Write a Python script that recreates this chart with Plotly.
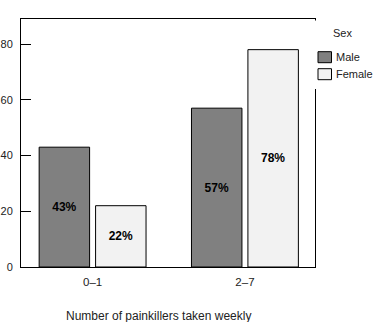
import plotly.graph_objects as go

# Painkiller use by sex (percent of each sex)
categories = ["0\u20131", "2\u20137"]
male_pct = [43, 57]
female_pct = [22, 78]
y_ticks = [0, 20, 40, 60, 80]
series_names = ["Male", "Female"]
series_colors = ["#808080", "#f2f2f2"]

FONT = "Liberation Sans, Arial, sans-serif"
W, H = 373, 322
ML, MR, MT, MB = 21, 58, 19, 55
PW, PH = W - ML - MR, H - MT - MB


def px_x(x):
    """Pixel column -> paper fraction."""
    return (x - ML) / PW


def px_y(y):
    """Pixel row (from top) -> paper fraction."""
    return (H - MB - y) / PH


fig = go.Figure()
for name, vals, color in zip(series_names, [male_pct, female_pct], series_colors):
    fig.add_trace(go.Bar(
        name=name, x=categories, y=vals,
        text=[f"{v}%" for v in vals],
        marker=dict(color=color, line=dict(color="black", width=1)),
    ))
fig.update_traces(
    textposition="inside", insidetextanchor="middle", textangle=0,
    constraintext="none",
    textfont=dict(family=FONT, size=12, color="black", weight="bold"),
)

# Key box at the top right, drawn over the frame corner
shapes = [dict(
    type="rect", xref="paper", yref="paper", layer="above",
    x0=px_x(311), x1=px_x(W + 5), y0=px_y(20.5), y1=px_y(89),
    fillcolor="white", line=dict(width=0),
)]
annotations = [dict(
    text="Sex", xref="paper", yref="paper",
    x=px_x(342), y=px_y(33), xanchor="center", yanchor="middle",
    showarrow=False, font=dict(size=11, color="#222"),
)]
for i, (name, color) in enumerate(zip(series_names, series_colors)):
    top = 51.7 + i * 17
    shapes.append(dict(
        type="rect", xref="paper", yref="paper", layer="above",
        x0=px_x(318), x1=px_x(331.5), y0=px_y(top), y1=px_y(top + 11),
        fillcolor=color, line=dict(color="black", width=1),
    ))
    annotations.append(dict(
        text=name, xref="paper", yref="paper",
        x=px_x(334), y=px_y(top + 5.5), xanchor="left", yanchor="middle",
        showarrow=False, font=dict(size=11, color="#222"),
    ))

annotations.append(dict(
    text="Number of painkillers taken weekly",
    xref="paper", yref="paper", x=px_x(158), y=px_y(316),
    xanchor="center", yanchor="middle", showarrow=False,
    font=dict(size=12, color="#222"),
))

fig.update_layout(
    width=W, height=H,
    margin=dict(l=ML, r=MR, t=MT, b=MB, autoexpand=False),
    paper_bgcolor="white", plot_bgcolor="white",
    font=dict(family=FONT, size=11, color="#222"),
    barmode="group", bargap=0.259, bargroupgap=0.106,
    showlegend=False,
    xaxis=dict(
        type="category", range=[-0.47, 1.46],
        showline=True, linecolor="black", linewidth=1, mirror=True,
        ticks="", showgrid=False, zeroline=False,
        ticklabelstandoff=4,
        tickfont=dict(size=11.5, color="#222"),
    ),
    yaxis=dict(
        range=[0, 89], tickvals=y_ticks,
        showline=True, linecolor="black", linewidth=1, mirror=True,
        ticks="inside", ticklen=10, tickcolor="black", tickwidth=1,
        ticklabelstandoff=5,
        showgrid=False, zeroline=False, automargin=False,
        tickfont=dict(size=11, color="#222"),
    ),
    shapes=shapes,
    annotations=annotations,
)

fig.write_html("out.html")
